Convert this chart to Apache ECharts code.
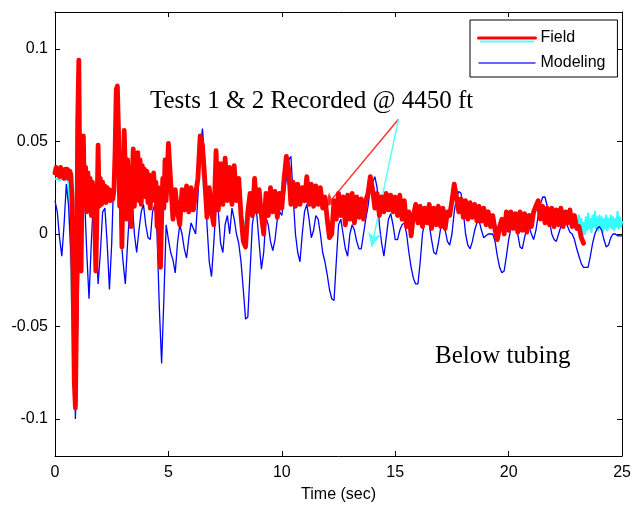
<!DOCTYPE html>
<html>
<head>
<meta charset="utf-8">
<script src="https://cdn.jsdelivr.net/npm/echarts@6/dist/echarts.min.js"></script>
<style>
html,body{margin:0;padding:0;background:#fff;}
#chart{width:634px;height:508px;}
</style>
</head>
<body>
<div id="chart"></div>
<script>
// ---- Data ----
// Field test (red): 0 - 4.95 s, every 0.05 s
const fieldEarlyStep = 0.05;
const fieldEarly = [
  0.033, 0.036, 0.032, 0.035, 0.031, 0.036, 0.032, 0.034, 0.030, 0.035,
  0.031, 0.035, 0.030, 0.034, 0.032, 0.020, -0.030, -0.080, -0.094, -0.040,
  0.060, 0.094, 0.020, -0.020, 0.035, 0.053, 0.018, 0.036, 0.012, 0.033,
  0.020, 0.030, 0.010, 0.028, 0.018, 0.010, -0.020, 0.010, 0.048, 0.015,
  0.030, 0.016, 0.028, 0.018, 0.026, 0.017, 0.025, 0.019, 0.024, 0.018,
  0.023, 0.019, 0.024, 0.045, 0.078, 0.080, 0.055, 0.015, 0.035, -0.007,
  0.030, 0.056, 0.035, 0.008, 0.040, 0.018, 0.036, 0.004, 0.030, 0.046,
  0.015, 0.038, 0.022, 0.044, 0.018, 0.040, 0.016, 0.037, 0.022, 0.035,
  0.020, 0.034, 0.017, 0.032, 0.014, 0.030, 0.022, 0.033, 0.018, 0.028,
  0.004, 0.025, -0.008, -0.018, 0.008, 0.030, 0.014, 0.040, 0.018, 0.034
];
// Field test (red): 5.0 - 23.3 s, every 0.1 s
const fieldLateStart = 5.0;
const fieldLateStep = 0.1;
const fieldLate = [
  0.049, 0.028, 0.008, 0.024, 0.012, 0.005, 0.024, 0.013, 0.026, 0.012,
  0.025, 0.013, 0.022, 0.030, 0.053, 0.048, 0.030, 0.009, 0.025, 0.012,
  0.005, 0.045, 0.013, 0.038, 0.016, 0.041, 0.018, 0.036, 0.016, 0.037,
  0.018, 0.030, 0.010, -0.004, -0.007, 0.012, 0.022, 0.010, 0.030, 0.012,
  0.024, 0.010, 0.000, 0.022, 0.010, 0.025, 0.012, 0.023, 0.009, 0.022,
  0.014, 0.030, 0.042, 0.035, 0.016, 0.028, 0.015, 0.027, 0.016, 0.025,
  0.018, 0.031, 0.016, 0.027, 0.015, 0.026, 0.016, 0.025, 0.014, 0.020,
  0.008, -0.002, 0.000, 0.018, 0.008, 0.022, 0.010, 0.020, 0.005, 0.021,
  0.008, 0.022, 0.006, 0.020, 0.009, 0.019, 0.008, 0.018, 0.022, 0.031,
  0.024, 0.014, 0.022, 0.010, 0.020, 0.012, 0.022, 0.013, 0.021, 0.012,
  0.020, 0.010, 0.021, 0.008, 0.018, 0.004, 0.012, -0.001, 0.010, 0.016,
  0.006, 0.015, 0.004, 0.014, 0.006, 0.016, 0.003, 0.014, 0.005, 0.015,
  0.004, 0.014, 0.003, 0.012, 0.010, 0.018, 0.027, 0.020, 0.012, 0.019,
  0.009, 0.018, 0.008, 0.017, 0.009, 0.016, 0.007, 0.015, 0.007, 0.014,
  0.005, 0.012, 0.004, 0.010, 0.002, -0.003, 0.004, 0.008, 0.000, 0.012,
  0.002, 0.012, 0.003, 0.011, 0.001, 0.012, 0.002, 0.011, 0.001, 0.010,
  0.004, 0.012, 0.015, 0.018, 0.008, 0.015, 0.006, 0.014, 0.005, 0.014,
  0.004, 0.013, 0.005, 0.014, 0.004, 0.012, 0.006, 0.013, 0.004, 0.010,
  0.003, 0.004, -0.002, -0.005
];
// Second field test (cyan): 0 - 23.0 s every 0.2 s, then 23.05 - 25.0 s every 0.05 s
const field2MainStep = 0.2;
const field2Main = [
  0.030, 0.029, 0.031, 0.028, -0.060,
  0.085, 0.030, 0.024, 0.026, 0.015,
  0.022, 0.020, 0.022, 0.020, 0.070,
  0.010, 0.030, 0.025, 0.030, 0.025,
  0.028, 0.022, 0.024, 0.000, 0.020,
  0.030, 0.015, 0.018, 0.016, 0.020,
  0.018, 0.020, 0.045, 0.020, 0.016,
  0.012, 0.025, 0.025, 0.028, 0.022,
  0.022, 0.012, 0.003, 0.016, 0.022,
  0.018, 0.008, 0.016, 0.018, 0.015,
  0.018, 0.036, 0.020, 0.020, 0.020,
  0.022, 0.020, 0.018, 0.020, 0.017,
  0.008, 0.005, 0.014, 0.016, 0.012,
  0.014, 0.012, 0.014, 0.012, 0.020,
  0.026, 0.016, 0.015, 0.016, 0.016,
  0.015, 0.014, 0.012, 0.006, 0.010,
  0.010, 0.009, 0.010, 0.008, 0.010,
  0.008, 0.008, 0.012, 0.024, 0.016,
  0.013, 0.012, 0.012, 0.011, 0.010,
  0.009, 0.007, 0.005, 0.003, 0.005,
  0.006, 0.007, 0.006, 0.007, 0.006,
  0.008, 0.013, 0.011, 0.010, 0.010,
  0.009, 0.009, 0.008, 0.009, 0.008,
  0.004
];
const field2TailStart = 23.05;
const field2TailStep = 0.05;
const field2Tail = [
  0.004, 0.010, 0.002, 0.008, -0.001, 0.006, 0.000, 0.009, 0.002, 0.011,
  0.003, 0.008, 0.001, 0.010, 0.004, 0.012, 0.003, 0.009, 0.002, 0.010,
  0.004, 0.009, 0.001, 0.008, 0.003, 0.010, 0.002, 0.008, 0.004, 0.010,
  0.003, 0.009, 0.002, 0.008, 0.004, 0.012, 0.003, 0.009, 0.004, 0.007
];
// Modeling (blue): 0 - 25 s every 0.1 s
const modelStep = 0.1;
const modeling = [
  0.018, 0.012, -0.002, -0.012, 0.005, 0.027, 0.015, -0.010, -0.040, -0.100,
  -0.050, 0.008, 0.018, 0.021, -0.010, -0.035, -0.005, 0.020, 0.005, -0.027,
  -0.010, 0.012, 0.014, -0.005, -0.030, -0.005, 0.035, 0.060, 0.030, 0.000,
  -0.015, -0.027, -0.005, 0.015, 0.018, 0.000, -0.010, 0.002, 0.012, 0.016,
  0.005, -0.002, -0.003, 0.012, 0.016, 0.000, -0.040, -0.070, -0.035, 0.005,
  -0.003, -0.010, -0.014, -0.021, -0.005, 0.005, 0.000, -0.008, -0.013, -0.002,
  0.006, 0.003, 0.000, 0.020, 0.045, 0.057, 0.040, 0.005, -0.015, -0.023,
  -0.005, 0.015, 0.012, -0.005, -0.010, 0.005, 0.010, 0.000, 0.014, 0.008,
  0.000, -0.005, -0.015, -0.030, -0.046, -0.045, -0.020, 0.005, 0.014, 0.010,
  -0.005, -0.019, -0.010, 0.009, 0.005, -0.004, -0.009, -0.003, 0.008, 0.012,
  0.010, 0.020, 0.030, 0.040, 0.042, 0.020, 0.000, -0.010, -0.015, 0.000,
  0.012, 0.016, 0.008, -0.002, 0.002, 0.010, 0.008, 0.000, -0.010, -0.015,
  -0.022, -0.030, -0.035, -0.036, -0.015, 0.005, 0.008, 0.000, -0.008, -0.012,
  0.000, 0.005, 0.002, -0.004, -0.008, -0.008, 0.000, 0.008, 0.015, 0.025,
  0.028, 0.031, 0.025, 0.005, -0.005, -0.012, -0.002, 0.008, 0.011, 0.005,
  -0.003, -0.003, 0.002, 0.005, 0.006, 0.000, -0.010, -0.018, -0.024, -0.027,
  -0.027, -0.015, 0.000, 0.007, 0.009, 0.005, -0.003, -0.010, -0.011, -0.005,
  0.003, 0.005, 0.002, -0.004, -0.006, 0.000, 0.012, 0.020, 0.023, 0.022,
  0.012, 0.000, -0.006, -0.008, -0.004, 0.002, 0.006, 0.007, 0.002, -0.002,
  -0.001, 0.000, 0.000, 0.000, -0.004, -0.012, -0.018, -0.021, -0.020, -0.012,
  -0.003, 0.003, 0.006, 0.007, 0.000, -0.007, -0.008, -0.002, 0.003, 0.004,
  0.000, -0.003, 0.002, 0.010, 0.016, 0.020, 0.020, 0.015, 0.007, 0.000,
  -0.003, -0.004, 0.000, 0.004, 0.007, 0.007, 0.004, 0.001, 0.000, -0.003,
  -0.008, -0.012, -0.016, -0.018, -0.018, -0.018, -0.012, -0.005, 0.000, 0.003,
  0.004, 0.002, -0.003, -0.007, -0.006, -0.002, 0.000, 0.000, -0.001, -0.001,
  -0.001
];
// Axis ticks
const xTicks = [0, 5, 10, 15, 20, 25];
const yTicks = [-0.1, -0.05, 0, 0.05, 0.1];
const yTickLabels = ['-0.1', '-0.05', '0', '0.05', '0.1'];
// Annotation arrows (data coordinates)
const arrowStart = [15.14, 0.062];
const arrowRedEnd = [11.91, 0.0144];
const arrowCyanEnd = [13.96, -0.007];

// ---- Build series data ----
const r = v => Math.round(v * 1000) / 1000;
const fieldData = fieldEarly.map((v, i) => [r(i * fieldEarlyStep), v])
  .concat(fieldLate.map((v, i) => [r(fieldLateStart + i * fieldLateStep), v]));
const field2Data = field2Main.map((v, i) => [r(i * field2MainStep), v])
  .concat(field2Tail.map((v, i) => [r(field2TailStart + i * field2TailStep), v]));
const modelData = modeling.map((v, i) => [r(i * modelStep), v]);

const sans = "'Liberation Sans', Arial, Helvetica, sans-serif";
const serif = "'Liberation Serif', 'Times New Roman', serif";
const chart = echarts.init(document.getElementById('chart'), null, {renderer: 'canvas'});

const tickCommon = {show: true, inside: true, length: 5, lineStyle: {color: '#000', width: 1}};

chart.setOption({
  animation: false,
  backgroundColor: '#fff',
  grid: {left: 55, right: 6, top: 12, bottom: 46, show: false},
  legend: {
    data: [
      {name: 'Field', lineStyle: {color: '#ff0000', width: 3}},
      {name: 'Modeling', lineStyle: {color: '#3333ff', width: 1.5}}
    ],
    orient: 'vertical',
    left: 470, top: 20,
    padding: [10, 12, 6, 7],
    itemGap: 9,
    itemWidth: 57, itemHeight: 16,
    itemStyle: {opacity: 0},
    backgroundColor: '#fff',
    borderColor: '#000', borderWidth: 1,
    textStyle: {fontFamily: sans, fontSize: 16, color: '#000'},
    selectedMode: false
  },
  xAxis: [{
    type: 'value', min: 0, max: 25, interval: 5,
    position: 'bottom',
    name: 'Time (sec)', nameLocation: 'middle', nameGap: 31,
    nameTextStyle: {fontFamily: sans, fontSize: 16, color: '#000'},
    axisLine: {show: true, onZero: false, lineStyle: {color: '#000', width: 1}},
    axisTick: Object.assign({}, tickCommon, {customValues: xTicks}),
    axisLabel: {customValues: xTicks, fontFamily: sans, fontSize: 16, color: '#000', margin: 9},
    splitLine: {show: false}
  }, {
    type: 'value', min: 0, max: 25, interval: 5,
    position: 'top',
    axisLine: {show: true, onZero: false, lineStyle: {color: '#000', width: 1}},
    axisTick: Object.assign({}, tickCommon, {customValues: xTicks}),
    axisLabel: {show: false},
    splitLine: {show: false}
  }],
  yAxis: [{
    type: 'value', min: -0.12, max: 0.12,
    position: 'left',
    axisLine: {show: true, onZero: false, lineStyle: {color: '#000', width: 1}},
    axisTick: Object.assign({}, tickCommon, {customValues: yTicks}),
    axisLabel: {
      customValues: yTicks, fontFamily: sans, fontSize: 16, color: '#000', margin: 7,
      formatter: v => { const k = yTicks.findIndex(t => Math.abs(t - v) < 1e-9); return k >= 0 ? yTickLabels[k] : ''; }
    },
    splitLine: {show: false}
  }, {
    type: 'value', min: -0.12, max: 0.12,
    position: 'right',
    axisLine: {show: true, onZero: false, lineStyle: {color: '#000', width: 1}},
    axisTick: Object.assign({}, tickCommon, {customValues: yTicks}),
    axisLabel: {show: false},
    splitLine: {show: false}
  }],
  series: [{
    name: 'Field', type: 'line', data: fieldData,
    xAxisIndex: 0, yAxisIndex: 0,
    showSymbol: false, symbol: 'none', z: 5,
    lineStyle: {color: '#ff0000', width: 4.8, join: 'round', cap: 'round'},
    itemStyle: {color: '#ff0000'},
    markLine: {
      silent: true, symbol: ['none', 'arrow'], symbolSize: [10, 14],
      label: {show: false},
      data: [
        [{coord: arrowStart, lineStyle: {color: '#ff3333', width: 1.5, type: 'solid'}, itemStyle: {color: '#ff3333'}},
         {coord: arrowRedEnd}],
        [{coord: arrowStart, lineStyle: {color: '#55ffff', width: 1.5, type: 'solid'}, itemStyle: {color: '#55ffff'}},
         {coord: arrowCyanEnd}]
      ]
    }
  }, {
    name: 'Modeling', type: 'line', data: modelData,
    showSymbol: false, symbol: 'none', z: 4,
    lineStyle: {color: '#0000ff', width: 1.3},
    itemStyle: {color: '#0000ff'}
  }, {
    name: 'Field', type: 'line', data: field2Data,
    showSymbol: false, symbol: 'none', z: 3,
    lineStyle: {color: '#33ffff', width: 2.2, join: 'round'},
    itemStyle: {color: '#33ffff'}
  }],
  graphic: [{
    type: 'line', z: 100,
    shape: {x1: 480, y1: 41.5, x2: 534, y2: 41.5},
    style: {stroke: '#55ffff', lineWidth: 2}
  }, {
    type: 'text', z: 100,
    style: {x: 150, y: 101, text: 'Tests 1 & 2 Recorded @ 4450 ft', font: '25px ' + serif, fill: '#000', verticalAlign: 'middle'}
  }, {
    type: 'text', z: 100,
    style: {x: 435, y: 356, text: 'Below tubing', font: '25px ' + serif, fill: '#000', verticalAlign: 'middle'}
  }]
});
</script>
</body>
</html>
